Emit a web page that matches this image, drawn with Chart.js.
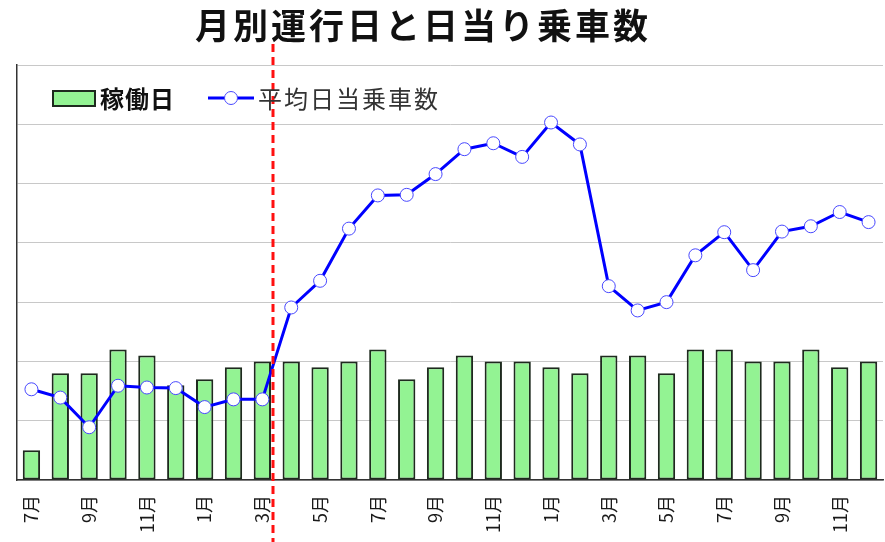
<!DOCTYPE html>
<html>
<head>
<meta charset="utf-8">
<script src="https://cdn.jsdelivr.net/npm/chart.js@4/dist/chart.umd.min.js"></script>
<style>
  html, body { margin: 0; padding: 0; background: #fff; }
  #wrap { width: 885px; height: 542px; position: relative; }
</style>
</head>
<body>
<div id="wrap"><canvas id="c" width="885" height="542"></canvas></div>
<script>
// ---- data ----
const months = ['7月','8月','9月','10月','11月','12月','1月','2月','3月','4月','5月','6月',
                '7月','8月','9月','10月','11月','12月','1月','2月','3月','4月','5月','6月',
                '7月','8月','9月','10月','11月','12月'];
const operatingDays = [5,18,18,22,21,16,17,19,20,20,19,20,22,17,19,21,20,20,19,18,21,21,18,22,22,20,20,22,19,20];
const avgDailyRiders = [153,139,89,159,156,155,123,136,136,291,336,424,480,481,516,558,568,545,603,566,327,286,300,379,418,354,419,428,452,435];
const titleText = '月別運行日と日当り乗車数';
const barLabel = '稼働日';
const lineLabel = '平均日当乗車数';
const markerIndex = 8; // 3月: start of the period marked by the red dashed line

const overlay = {
  id: 'overlay',
  afterDraw(chart) {
    const ctx = chart.ctx;
    const xs = chart.scales.x;
    // title
    ctx.save();
    ctx.fillStyle = '#111';
    ctx.font = 'bold 35px "Noto Sans CJK JP"';
    ctx.letterSpacing = '3px';
    ctx.textAlign = 'center';
    ctx.textBaseline = 'middle';
    ctx.fillText(titleText, 423, 26);
    ctx.restore();

    // red dashed line
    const x0 = xs.getPixelForValue(markerIndex);
    const x1 = xs.getPixelForValue(markerIndex + 1);
    const xd = Math.round(x0 + (x1 - x0) * 0.36);
    ctx.save();
    ctx.strokeStyle = '#ff1010';
    ctx.lineWidth = 3;
    ctx.setLineDash([8, 5]);
    ctx.beginPath();
    ctx.moveTo(xd, 44);
    ctx.lineTo(xd, 542);
    ctx.stroke();
    ctx.restore();

    // legend
    const bar = chart.data.datasets[0];
    const line = chart.data.datasets[1];
    ctx.save();
    ctx.fillStyle = bar.backgroundColor;
    ctx.strokeStyle = bar.borderColor;
    ctx.lineWidth = 2;
    ctx.fillRect(53, 91, 42, 15);
    ctx.strokeRect(53, 91, 42, 15);
    ctx.fillStyle = '#111';
    ctx.font = 'bold 24px "Noto Sans CJK JP"';
    ctx.textBaseline = 'middle';
    ctx.letterSpacing = '1px';
    ctx.fillText(bar.label, 100, 99);

    ctx.strokeStyle = line.borderColor;
    ctx.lineWidth = 3;
    ctx.beginPath();
    ctx.moveTo(208, 98);
    ctx.lineTo(254, 98);
    ctx.stroke();
    ctx.beginPath();
    ctx.arc(231, 98, 6.5, 0, Math.PI * 2);
    ctx.fillStyle = line.pointBackgroundColor;
    ctx.fill();
    ctx.lineWidth = 1;
    ctx.strokeStyle = line.pointBorderColor;
    ctx.stroke();

    ctx.fillStyle = '#333';
    ctx.font = '24px "Noto Sans CJK JP"';
    ctx.letterSpacing = '2px';
    ctx.fillText(line.label, 258, 99);
    ctx.restore();
  }
};

new Chart(document.getElementById('c'), {
  data: {
    labels: months,
    datasets: [
      {
        type: 'bar',
        label: barLabel,
        data: operatingDays,
        backgroundColor: '#93f393',
        borderColor: '#1e2a1e',
        borderWidth: 2,
        borderSkipped: false,
        barPercentage: 0.6,
        categoryPercentage: 1.0,
        yAxisID: 'y',
        order: 2
      },
      {
        type: 'line',
        label: lineLabel,
        data: avgDailyRiders,
        borderColor: '#0000ff',
        borderWidth: 3,
        pointRadius: 6.5,
        pointHoverRadius: 6.5,
        pointBackgroundColor: '#ffffff',
        pointBorderColor: '#4848ff',
        pointBorderWidth: 1,
        tension: 0,
        clip: false,
        yAxisID: 'y2',
        order: 1
      }
    ]
  },
  options: {
    responsive: false,
    animation: false,
    devicePixelRatio: 1,
    layout: { autoPadding: false, padding: { left: 17, right: 2, top: 65, bottom: 0 } },
    plugins: {
      legend: { display: false },
      title: { display: false },
      tooltip: { enabled: false }
    },
    scales: {
      x: {
        offset: true,
        grid: { display: false, drawTicks: false },
        border: { display: true, color: '#333', width: 1.5 },
        ticks: {
          autoSkip: false,
          minRotation: 90,
          maxRotation: 90,
          padding: 15,
          color: '#1a1a1a',
          font: { family: '"Noto Sans CJK JP"', size: 18 },
          callback: function(v, i) { return i % 2 === 0 ? this.getLabelForValue(v) : ''; }
        },
        afterFit: (s) => { s.height = 62; s.paddingLeft = 0; s.paddingRight = 0; }
      },
      y: {
        min: 0, max: 70,
        ticks: { display: false, stepSize: 10 },
        grid: { color: '#c8c8c8', lineWidth: 1, drawTicks: false },
        border: { display: true, color: '#333', width: 1.5 },
        afterFit: (s) => { s.width = 0; }
      },
      y2: {
        position: 'right',
        min: 0, max: 700,
        display: false
      }
    }
  },
  plugins: [overlay]
});
</script>
</body>
</html>
